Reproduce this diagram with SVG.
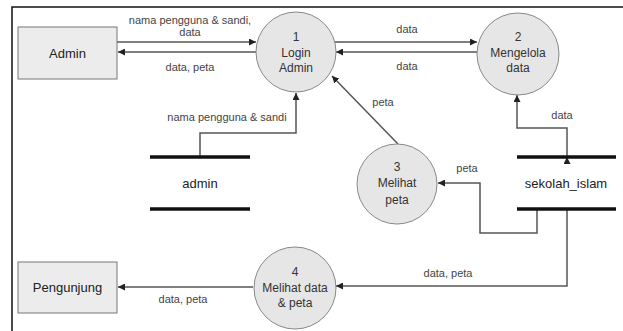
<svg xmlns="http://www.w3.org/2000/svg" width="623" height="331" viewBox="0 0 623 331">
<style>
.frame{stroke:#111;stroke-width:1.5;fill:none}
.ent{fill:#ececec;stroke:#777;stroke-width:1}
.proc{fill:#e6e6e6;stroke:#888;stroke-width:1}
.store{stroke:#111;stroke-width:3.5}
.flow{fill:none;stroke:#555;stroke-width:1.5}
.nt{font-family:"Liberation Sans",Arial,sans-serif;font-size:13px;fill:#222;text-anchor:middle}
.pt{font-family:"Liberation Sans",Arial,sans-serif;font-size:12px;fill:#333;text-anchor:middle}
.lt{font-family:"Liberation Sans",Arial,sans-serif;font-size:11px;fill:#444;text-anchor:middle}
</style>
<defs>
<marker id="ah" viewBox="0 0 10 10" refX="10" refY="5" markerWidth="7" markerHeight="7" markerUnits="userSpaceOnUse" orient="auto">
<path d="M0,0 L10,5 L0,10 z" fill="#222"/>
</marker>
</defs>
<rect width="623" height="331" fill="#fff"/>
<path class="frame" d="M12,331 V7 H623"/>

<g id="connectors">
<line class="flow" x1="117" y1="42" x2="256" y2="42" marker-end="url(#ah)"/>
<line class="flow" x1="256" y1="52" x2="118" y2="52" marker-end="url(#ah)"/>
<line class="flow" x1="335" y1="42" x2="477" y2="42" marker-end="url(#ah)"/>
<line class="flow" x1="477" y1="52" x2="336" y2="52" marker-end="url(#ah)"/>
<path class="flow" d="M200,157 V133 H296 V93" marker-end="url(#ah)"/>
<line class="flow" x1="398" y1="144" x2="332" y2="76" marker-end="url(#ah)"/>
<path class="flow" d="M567,157 V128 H517 V95" marker-start="url(#ah)" marker-end="url(#ah)"/>
<path class="flow" d="M537,209 V233 H480 V183 H438" marker-end="url(#ah)"/>
<path class="flow" d="M567,209 V286 H336" marker-end="url(#ah)"/>
<line class="flow" x1="253" y1="287" x2="118" y2="287" marker-end="url(#ah)"/>
<text class="lt" x="190" y="24">nama pengguna &amp; sandi,</text>
<text class="lt" x="190" y="36">data</text>
<text class="lt" x="190" y="71">data, peta</text>
<text class="lt" x="407" y="33">data</text>
<text class="lt" x="407" y="70">data</text>
<text class="lt" x="227" y="121">nama pengguna &amp; sandi</text>
<text class="lt" x="383" y="106">peta</text>
<text class="lt" x="562" y="119">data</text>
<text class="lt" x="467" y="172">peta</text>
<text class="lt" x="448" y="277">data, peta</text>
<text class="lt" x="183" y="303">data, peta</text>
</g>

<g id="admin-entity">
<rect class="ent" x="18" y="27" width="99" height="52"/>
<text class="nt" x="67.5" y="57.5">Admin</text>
</g>
<g id="pengunjung-entity">
<rect class="ent" x="18" y="262" width="99" height="51"/>
<text class="nt" x="67.5" y="292">Pengunjung</text>
</g>
<g id="p1">
<circle class="proc" cx="296" cy="52" r="40"/>
<text class="pt" x="296" y="41">1</text>
<text class="pt" x="296" y="57">Login</text>
<text class="pt" x="296" y="72">Admin</text>
</g>
<g id="p2">
<circle class="proc" cx="518" cy="54" r="41"/>
<text class="pt" x="518" y="41">2</text>
<text class="pt" x="518" y="57">Mengelola</text>
<text class="pt" x="518" y="72">data</text>
</g>
<g id="p3">
<circle class="proc" cx="397" cy="184" r="40"/>
<text class="pt" x="397" y="171">3</text>
<text class="pt" x="397" y="187">Melihat</text>
<text class="pt" x="397" y="204">peta</text>
</g>
<g id="p4">
<circle class="proc" cx="295" cy="288" r="41"/>
<text class="pt" x="295" y="276">4</text>
<text class="pt" x="295" y="292">Melihat data</text>
<text class="pt" x="295" y="307">&amp; peta</text>
</g>
<g id="store-admin">
<line class="store" x1="150" y1="157" x2="250" y2="157"/>
<line class="store" x1="150" y1="209" x2="250" y2="209"/>
<text class="nt" x="200" y="188">admin</text>
</g>
<g id="store-sekolah">
<line class="store" x1="517" y1="157" x2="616" y2="157"/>
<line class="store" x1="517" y1="209" x2="616" y2="209"/>
<text class="nt" x="566" y="188">sekolah_islam</text>
</g>
</svg>
